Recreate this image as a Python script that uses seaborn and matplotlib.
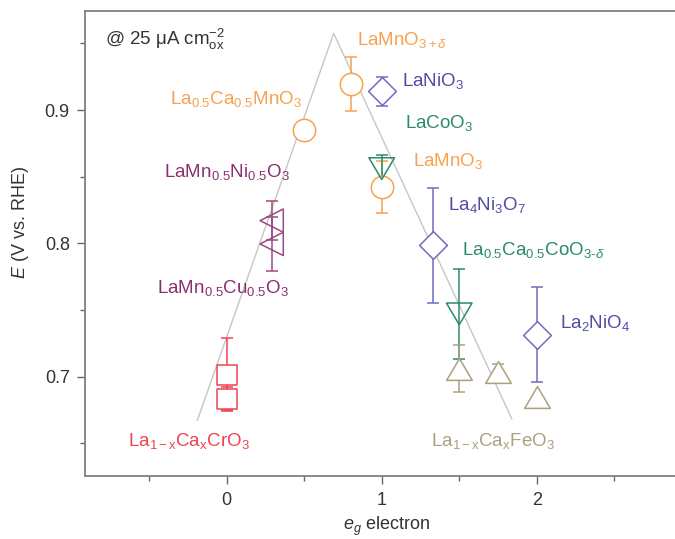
import numpy as np
import matplotlib
matplotlib.use("Agg")
import matplotlib.pyplot as plt
from matplotlib.path import Path
import seaborn as sns

# eg filling vs. potential at 25 uA cm-2 (ox)
series = ["LaMnO3+d", "La0.5Ca0.5MnO3", "LaMnO3", "LaNiO3", "La4Ni3O7", "La2NiO4",
          "LaCoO3", "La0.5Ca0.5CoO3-d", "LaMn0.5Ni0.5O3", "LaMn0.5Cu0.5O3",
          "LaCrO3 a", "LaCrO3 b", "LaFeO3 a", "LaFeO3 b", "LaFeO3 c"]
eg = [0.8, 0.5, 1.0, 1.0, 1.33, 2.0, 1.0, 1.5, 0.29, 0.29, 0.0, 0.0, 1.5, 1.75, 2.0]
potential = [0.9195, 0.885, 0.8425, 0.914, 0.7985, 0.7315, 0.856, 0.747, 0.817, 0.7995,
             0.7015, 0.6835, 0.706, 0.7035, 0.685]
err = [0.02, 0.003, 0.0195, 0.011, 0.0433, 0.0357, 0.01, 0.034, 0.0145, 0.02,
       0.0275, 0.0085, 0.0175, 0.006, 0.0]
group = ["Mn", "Mn", "Mn", "Ni", "Ni", "Ni", "Co", "Co", "MnX", "MnX",
         "Cr", "Cr", "Fe", "Fe", "Fe"]

# volcano guide line
volcano_x = [-0.19, 0.69, 1.84]
volcano_y = [0.667, 0.9575, 0.668]

# slightly flattened triangles, closed paths
wide_down = Path([(-1, 0.85), (1, 0.85), (0, -0.85), (-1, 0.85)], closed=True)
wide_up = Path([(-1, -0.85), (1, -0.85), (0, 0.85), (-1, -0.85)], closed=True)
colors = {"Mn": "#f6a24f", "Ni": "#6f6cbd", "Co": "#2d8a6b", "MnX": "#9a4a84",
          "Cr": "#f0424f", "Fe": "#ad9f80"}
markers = {"Mn": "o", "Ni": "D", "Co": wide_down, "MnX": "<", "Cr": "s", "Fe": wide_up}
msize = {"Mn": 260, "Ni": 200, "Co": 340, "MnX": 280, "Cr": 200, "Fe": 340}
filled = {"Mn": True, "Ni": True, "Co": False, "MnX": False, "Cr": True, "Fe": True}

labels = [r"LaMnO$_{3+\delta}$", r"La$_{0.5}$Ca$_{0.5}$MnO$_3$", r"LaMnO$_3$",
          r"LaNiO$_3$", r"La$_4$Ni$_3$O$_7$", r"La$_2$NiO$_4$", r"LaCoO$_3$",
          r"La$_{0.5}$Ca$_{0.5}$CoO$_{3\text{-}\delta}$",
          r"LaMn$_{0.5}$Ni$_{0.5}$O$_3$", r"LaMn$_{0.5}$Cu$_{0.5}$O$_3$",
          r"La$_{\mathrm{1-x}}$Ca$_{\mathrm{x}}$CrO$_3$",
          r"La$_{\mathrm{1-x}}$Ca$_{\mathrm{x}}$FeO$_3$"]
label_group = ["Mn", "Mn", "Mn", "Ni", "Ni", "Ni", "Co", "Co", "MnX", "MnX", "Cr", "Fe"]
label_pos = [(0.84, 0.9488, "left"), (0.486, 0.9045, "right"), (1.2, 0.8582, "left"),
             (1.13, 0.918, "left"), (1.43, 0.825, "left"), (2.15, 0.7362, "left"),
             (1.15, 0.8863, "left"), (1.516, 0.7912, "left"),
             (0.408, 0.85, "right"), (0.404, 0.7625, "right"),
             (-0.635, 0.648, "left"), (1.318, 0.648, "left")]
text_colors = {"Mn": "#f6a24f", "Ni": "#4f4ca6", "Co": "#2d8a6b", "MnX": "#8a2f6f",
               "Cr": "#f0424f", "Fe": "#ad9f80"}

sns.set_theme(style="ticks")
plt.rcParams["font.family"] = ["Liberation Sans", "DejaVu Sans"]
plt.rcParams["mathtext.fontset"] = "custom"
plt.rcParams["mathtext.rm"] = "Liberation Sans"
plt.rcParams["mathtext.it"] = "Liberation Sans:italic"
plt.rcParams["mathtext.bf"] = "Liberation Sans:bold"

fig = plt.figure(figsize=(6.75, 5.39), dpi=100)
ax = fig.add_axes([0.126, 0.116, 0.874, 0.8636])

sns.lineplot(x=volcano_x, y=volcano_y, color="#c6c6c6", lw=1.0, estimator=None,
             sort=False, ax=ax, zorder=1)

for i in range(len(eg)):
    g = group[i]
    c = colors[g]
    if err[i] > 0:
        ax.errorbar(eg[i], potential[i], yerr=err[i], fmt="none", ecolor=c,
                    elinewidth=1.1, capsize=4, capthick=1.1, zorder=2)
    sns.scatterplot(x=[eg[i]], y=[potential[i]], marker=markers[g], s=msize[g],
                    color=c, facecolor="white" if filled[g] else "none",
                    edgecolor=c, linewidth=1.1, ax=ax, zorder=3)

for t, g, (lx, ly, ha) in zip(labels, label_group, label_pos):
    ax.text(lx, ly, t, color=text_colors[g], fontsize=13.5, ha=ha, va="baseline")

ax.text(-0.785, 0.9488, "@ 25 μA cm$^{-2}_{\\mathrm{ox}}$", color="#333333",
        fontsize=13.5, ha="left", va="baseline")

ax.set_xlim(-0.914, 2.892)
ax.set_ylim(0.625, 0.9743)
ax.set_xticks([0, 1, 2])
ax.set_xticks([-0.5, 0.5, 1.5, 2.5], minor=True)
ax.set_yticks([0.7, 0.8, 0.9])
ax.set_yticks([0.65, 0.75, 0.85, 0.95], minor=True)
ax.tick_params(which="major", length=6, width=1, color="#666666", labelsize=13,
               labelcolor="#333333", pad=5)
ax.tick_params(which="minor", length=3.5, width=1, color="#666666")

for side in ["left", "top", "bottom"]:
    ax.spines[side].set_color("#808080")
    ax.spines[side].set_linewidth(1.3)
ax.spines["right"].set_visible(False)

ax.set_xlabel(r"$e_g$ electron", fontsize=13, color="#333333")
ax.set_ylabel(r"$E$ (V vs. RHE)", fontsize=13, color="#333333")
ax.xaxis.set_label_coords(0.511, -0.082)
ax.yaxis.set_label_coords(-0.092, 0.545)

fig.savefig("out.png", dpi=100)
